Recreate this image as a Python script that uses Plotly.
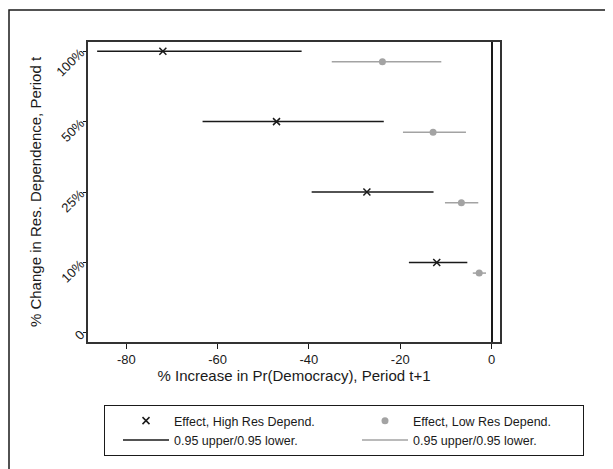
import plotly.graph_objects as go

categories = ["0", "10%", "25%", "50%", "100%"]
cat_pos = [1, 2, 3, 4]  # positions of 10%, 25%, 50%, 100%

high_est = [-12.0, -27.3, -47.1, -72.0]
high_lo = [-18.1, -39.4, -63.3, -86.4]
high_hi = [-5.3, -12.7, -23.6, -41.6]

low_est = [-2.7, -6.6, -12.8, -23.9]
low_lo = [-4.1, -10.2, -19.4, -35.0]
low_hi = [-1.2, -2.9, -5.6, -11.0]
low_offset = -0.15

x_ticks = [-80, -60, -40, -20, 0]


def seg(lo, hi, ys):
    xs, yy = [], []
    for a, b, y in zip(lo, hi, ys):
        xs += [a, b, None]
        yy += [y, y, None]
    return xs, yy


low_y = [p + low_offset for p in cat_pos]
hx, hy = seg(high_lo, high_hi, cat_pos)
lx, ly = seg(low_lo, low_hi, low_y)

FONT = "Liberation Sans"
BLACK = "#1a1a1a"
GRAY = "#a3a3a3"

fig = go.Figure()
fig.add_trace(go.Scatter(x=hx, y=hy, mode="lines", name="0.95 upper/0.95 lower.", legendrank=3,
                         line=dict(color=BLACK, width=1.5)))
fig.add_trace(go.Scatter(x=lx, y=ly, mode="lines", name="0.95 upper/0.95 lower.", legendrank=4,
                         line=dict(color=GRAY, width=1.5)))
fig.add_trace(go.Scatter(x=high_est, y=cat_pos, mode="markers", name="Effect, High Res Depend.", legendrank=1,
                         marker=dict(symbol="x-thin", size=7, line=dict(color=BLACK, width=1.5), color=BLACK)))
fig.add_trace(go.Scatter(x=low_est, y=low_y, mode="markers", name="Effect, Low Res Depend.", legendrank=2,
                         marker=dict(symbol="circle", size=7, color=GRAY)))

W, H = 605, 461  # page body has an 8px margin
fig.update_layout(
    width=W, height=H,
    margin=dict(l=80, r=113, t=34, b=127, autoexpand=False),
    paper_bgcolor="white", plot_bgcolor="white",
    font=dict(family=FONT, color=BLACK, size=12),
    showlegend=True,
    legend=dict(orientation="h", x=(576 - 80) / 412, y=(334 - 397) / 300,
                xanchor="right", yanchor="top",
                bordercolor=BLACK, borderwidth=1, entrywidth=165, entrywidthmode="pixels",
                font=dict(size=12.5, family=FONT), tracegroupgap=0, itemwidth=46, indentation=13),
    xaxis=dict(range=[-88.4, 1.86], tickvals=x_ticks, ticktext=[str(v) for v in x_ticks],
               ticks="outside", ticklen=5, tickcolor=BLACK, showgrid=False,
               showline=True, linecolor="#333", linewidth=1.5, mirror=True,
               zeroline=True, zerolinecolor=BLACK, zerolinewidth=1.5,
               title=dict(text="% Increase in Pr(Democracy), Period t+1", font=dict(size=15), standoff=4),
               tickfont=dict(size=13)),
    yaxis=dict(range=[-0.128, 4.13], tickvals=[0, 1, 2, 3, 4], ticktext=categories,
               tickangle=-45, ticks="outside", ticklen=3, tickcolor=BLACK, showgrid=False,
               showline=True, linecolor="#333", linewidth=1.5, mirror=True, zeroline=False,
               title=dict(text="% Change in Res. Dependence, Period t", font=dict(size=15), standoff=8),
               tickfont=dict(size=13)),
)

fig.add_shape(type="rect", xref="paper", yref="paper",
              x0=(1 - 80) / 412, x1=1.5, y0=-0.6, y1=(334 - 2) / 300,
              line=dict(color=BLACK, width=1.5), fillcolor="rgba(0,0,0,0)", layer="below")

fig.write_html("out.html")
